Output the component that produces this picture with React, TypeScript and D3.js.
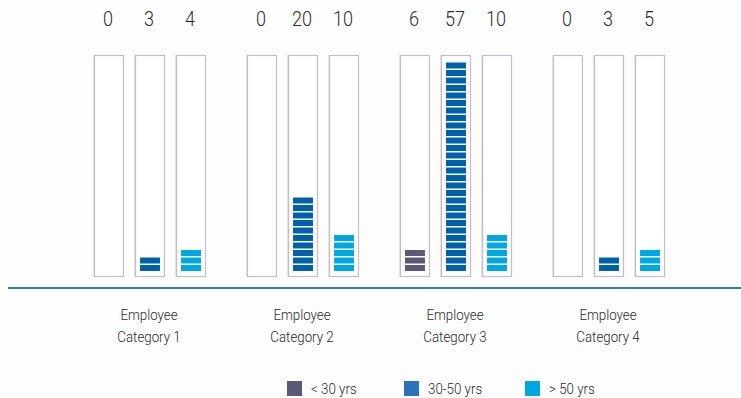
import React from "react";
import * as d3 from "d3";

const categories = ["Employee Category 1", "Employee Category 2", "Employee Category 3", "Employee Category 4"];
const seriesNames = ["< 30 yrs", "30-50 yrs", "> 50 yrs"];
const seriesColors = ["#5a5a78", "#0061a9", "#00a8e2"];
const legendColors = ["#5a5a78", "#2a72b9", "#00a8e2"];
const under30 = [0, 0, 6, 0];
const mid = [3, 20, 57, 3];
const over50 = [4, 10, 10, 5];
// number of drawn blocks per bar
const under30Blocks = [0, 0, 3, 0];
const midBlocks = [2, 10, 28, 2];
const over50Blocks = [3, 5, 5, 3];

const W = 741, H = 398;
const FONT = "Roboto, 'Liberation Sans', sans-serif";

function CondText(props: { x: number; y: number; size: number; anchor?: string; children: React.ReactNode }) {
  const k = 0.86;
  return (
    <text
      transform={`translate(${props.x},${props.y}) scale(${k},1)`}
      textAnchor={props.anchor || "middle"}
      fontSize={props.size}
      fontWeight={300}
      fill="#2a2a2a"
    >
      {props.children}
    </text>
  );
}

export default function App() {
  const values = [under30, mid, over50];
  const blocks = [under30Blocks, midBlocks, over50Blocks];
  const x0 = d3.scaleBand<number>().domain(d3.range(categories.length)).range([74, 686]).paddingInner(0).paddingOuter(0);
  const x1 = d3.scaleBand<number>().domain(d3.range(3)).range([20, 132]).paddingInner(0.27).paddingOuter(0);
  const y = d3.scaleLinear().domain([0, 28]).range([271, 61]);
  const barTop = 55, barBottom = 277;
  const inset = 5;
  const segH = 6;

  return (
    <div style={{ position: "absolute", left: 0, top: 0, width: W, height: H, background: "#fdfdfd" }}>
      <svg width={W} height={H} style={{ display: "block", fontFamily: FONT }}>
        <rect x={0} y={0} width={W} height={H} fill="#fdfdfd" />
        {categories.map((c, ci) => {
          const gx = x0(ci)!;
          const lines = c.split(" ");
          const cx = gx + 76;
          return (
            <g key={c}>
              {values.map((vals, si) => {
                const bx = gx + x1(si)!;
                const bw = x1.bandwidth();
                const n = blocks[si][ci];
                return (
                  <g key={si}>
                    <CondText x={bx + bw / 2 - 1} y={26} size={21}>{vals[ci]}</CondText>
                    <rect x={bx - 1} y={barTop} width={bw + 1} height={barBottom - barTop} fill="#e6e6ea" />
                    <rect x={bx + 0.5} y={barTop + 0.5} width={bw - 1} height={barBottom - barTop - 1} fill="#fff" stroke="#bfbfc6" strokeWidth={1.2} />
                    {d3.range(n).map((k) => (
                      <rect key={k} x={bx + inset} y={y(k + 1) + (y(k) - y(k + 1) - segH)} width={bw - 2 * inset} height={segH} fill={seriesColors[si]} />
                    ))}
                  </g>
                );
              })}
              <CondText x={cx - 1} y={320} size={15.5}>{lines[0]}</CondText>
              <CondText x={cx - 1} y={342} size={15.5}>{lines.slice(1).join(" ")}</CondText>
            </g>
          );
        })}
        <line x1={8} x2={W} y1={288} y2={288} stroke="#2f7dc0" strokeWidth={2} />
        {seriesNames.map((s, i) => {
          const lx = [287, 404, 525][i];
          return (
            <g key={s}>
              <rect x={lx} y={381} width={15} height={15} fill={legendColors[i]} />
              <CondText x={lx + 24} y={394} size={15.5} anchor="start">{s}</CondText>
            </g>
          );
        })}
      </svg>
    </div>
  );
}
